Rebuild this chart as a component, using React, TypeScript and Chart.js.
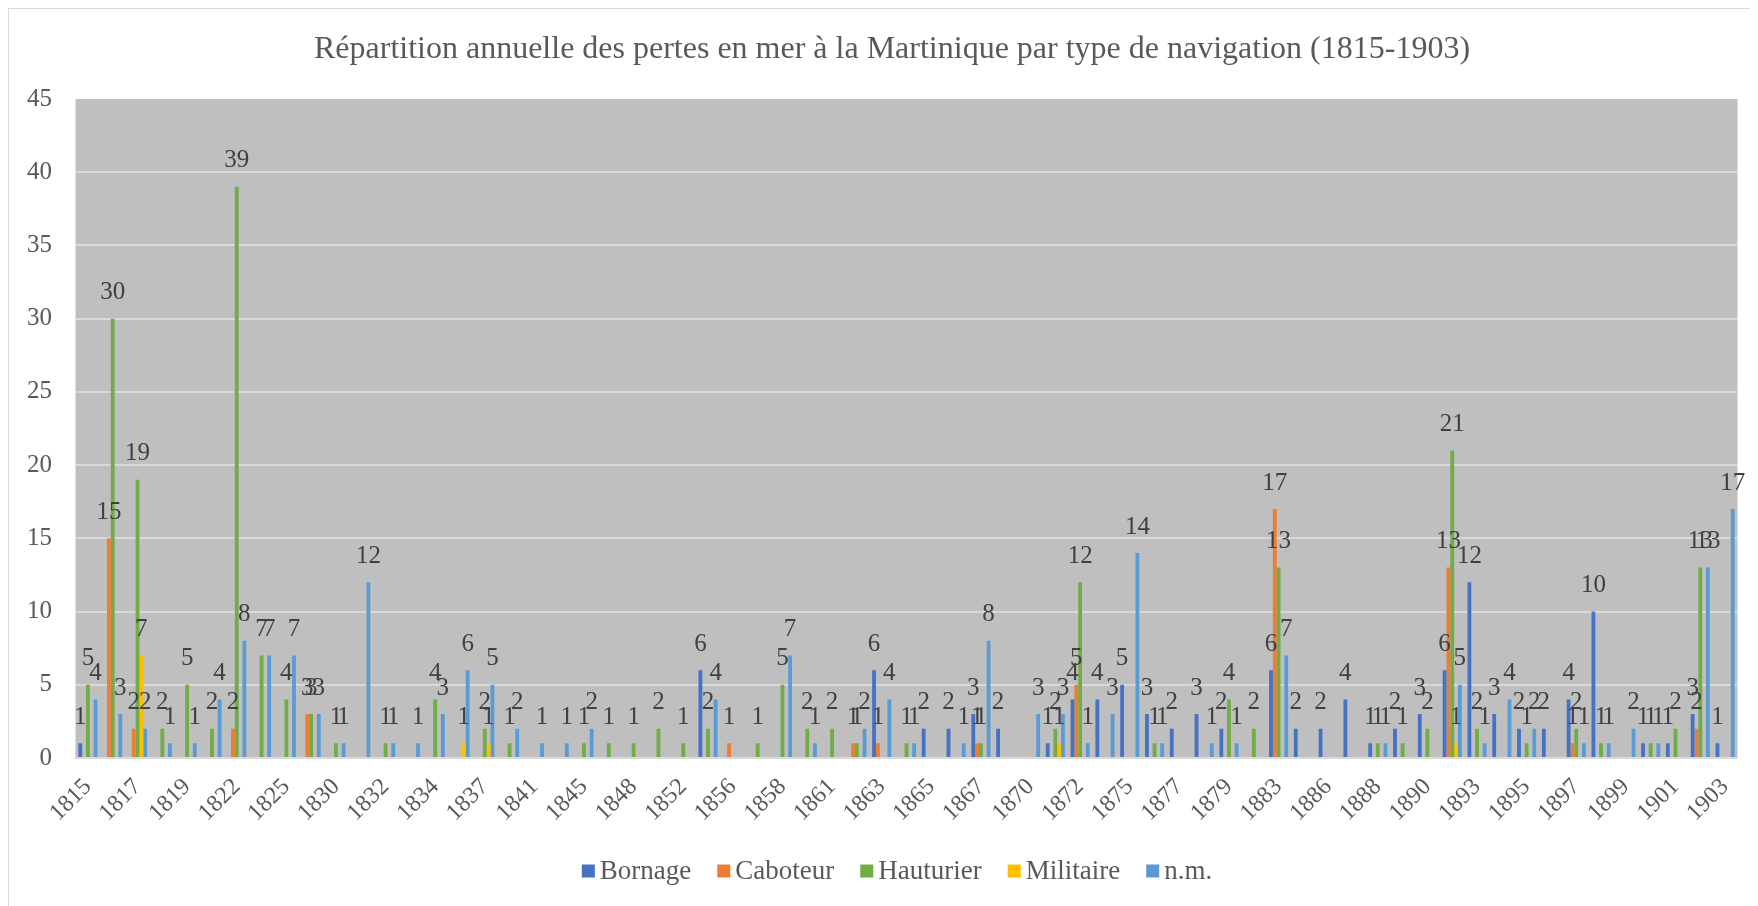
import React, { useEffect, useRef } from 'react';
import { Chart, registerables } from 'chart.js';

Chart.register(...registerables);

const n = null;

const years = [
  '1815', '1816', '1817', '1818', '1819', '1821', '1822', '1823', '1825', '1827',
  '1830', '1831', '1832', '1833', '1834', '1836', '1837', '1839', '1841', '1843',
  '1845', '1847', '1848', '1850', '1852', '1854', '1856', '1857', '1858', '1860',
  '1861', '1862', '1863', '1864', '1865', '1866', '1867', '1868', '1870', '1871',
  '1872', '1874', '1875', '1876', '1877', '1878', '1879', '1881', '1883', '1884',
  '1886', '1887', '1888', '1889', '1890', '1891', '1893', '1894', '1895', '1896',
  '1897', '1898', '1899', '1900', '1901', '1902', '1903',
];

const bornage = [
  1, n, n, n, n, n, n, n, n, n,
  n, n, n, n, n, n, n, n, n, n,
  n, n, n, n, n, 6, n, n, n, n,
  n, n, 6, n, 2, 2, 3, 2, n, 1,
  4, 4, 5, 3, 2, 3, 2, n, 6, 2,
  2, 4, 1, 2, 3, 6, 12, 3, 2, 2,
  4, 10, n, 1, 1, 3, 1,
];

const caboteur = [
  n, 15, 2, n, n, n, 2, n, n, 3,
  n, n, n, n, n, n, n, n, n, n,
  n, n, n, n, n, n, 1, n, n, n,
  n, 1, 1, n, n, n, 1, n, n, n,
  5, n, n, n, n, n, n, n, 17, n,
  n, n, n, n, n, 13, n, n, n, n,
  1, n, n, n, n, 2, n,
];

const hauturier = [
  5, 30, 19, 2, 5, 2, 39, 7, 4, 3,
  1, n, 1, n, 4, n, 2, 1, n, n,
  1, 1, 1, 2, 1, 2, n, 1, 5, 2,
  2, 1, n, 1, n, n, 1, n, n, 2,
  12, n, n, 1, n, n, 4, 2, 13, n,
  n, n, 1, 1, 2, 21, 2, n, 1, n,
  2, 1, n, 1, 2, 13, n,
];

const militaire = [
  n, n, 7, n, n, n, n, n, n, n,
  n, n, n, n, n, 1, 1, n, n, n,
  n, n, n, n, n, n, n, n, n, n,
  n, n, n, n, n, n, n, n, n, 1,
  n, n, n, n, n, n, n, n, n, n,
  n, n, n, n, n, 1, n, n, n, n,
  n, n, n, n, n, n, n,
];

const nonMentionne = [
  4, 3, 2, 1, 1, 4, 8, 7, 7, 3,
  1, 12, 1, 1, 3, 6, 5, 2, 1, 1,
  2, n, n, n, n, 4, n, n, 7, 1,
  n, 2, 4, 1, n, 1, 8, n, 3, 3,
  1, 3, 14, 1, n, 1, 1, n, 7, n,
  n, n, 1, n, n, 5, 1, 4, 2, n,
  1, 1, 2, 1, n, 13, 17,
];

const seriesNames = ['Bornage', 'Caboteur', 'Hauturier', 'Militaire', 'n.m.'];
const seriesColors = ['#4472C4', '#ED7D31', '#70AD47', '#FFC000', '#5B9BD5'];
const yTicks = [0, 5, 10, 15, 20, 25, 30, 35, 40, 45];

const titleText = 'Répartition annuelle des pertes en mer à la Martinique par type de navigation (1815-1903)';
const FONT = "'Liberation Serif', 'Times New Roman', serif";

const plotBg = {
  id: 'plotBg',
  beforeDraw(chart: any) {
    const { ctx, chartArea } = chart;
    ctx.save();
    ctx.fillStyle = '#bfbfbf';
    ctx.fillRect(chartArea.left, chartArea.top, chartArea.right - chartArea.left, chartArea.bottom - chartArea.top);
    ctx.restore();
  },
};

const chartTitle = {
  id: 'chartTitle',
  afterDraw(chart: any) {
    const { ctx } = chart;
    ctx.save();
    ctx.font = `32px ${FONT}`;
    ctx.fillStyle = '#595959';
    ctx.textAlign = 'center';
    ctx.textBaseline = 'middle';
    ctx.fillText(titleText, 883, 41);
    ctx.restore();
  },
};

const valueLabels = {
  id: 'valueLabels',
  afterDatasetsDraw(chart: any) {
    const { ctx } = chart;
    ctx.save();
    ctx.font = `25px ${FONT}`;
    ctx.fillStyle = '#404040';
    ctx.textAlign = 'center';
    ctx.textBaseline = 'middle';
    chart.data.datasets.forEach((ds: any, i: number) => {
      const meta = chart.getDatasetMeta(i);
      meta.data.forEach((bar: any, j: number) => {
        const v = ds.data[j];
        if (v === null || v === undefined) return;
        ctx.fillText(String(v), bar.x, bar.y - 26);
      });
    });
    ctx.restore();
  },
};

const customLegend = {
  id: 'customLegend',
  afterDraw(chart: any) {
    const { ctx } = chart;
    ctx.save();
    ctx.font = `27px ${FONT}`;
    ctx.textBaseline = 'middle';
    ctx.textAlign = 'left';
    const box = 13;
    const gap = 5;
    const spacing = 26;
    const items = chart.data.datasets.map((ds: any) => ({
      label: ds.label,
      color: ds.backgroundColor,
      w: box + gap + ctx.measureText(ds.label).width,
    }));
    const total = items.reduce((s: number, it: any) => s + it.w, 0) + spacing * (items.length - 1);
    let x = 888 - total / 2;
    const y = 862;
    items.forEach((it: any) => {
      ctx.fillStyle = it.color;
      ctx.fillRect(x, y - box / 2, box, box);
      ctx.fillStyle = '#595959';
      ctx.fillText(it.label, x + box + gap, y + 1);
      x += it.w + spacing;
    });
    ctx.restore();
  },
};

export default function App() {
  const canvasRef = useRef<HTMLCanvasElement | null>(null);

  useEffect(() => {
    if (!canvasRef.current) return;
    const allSeries = [bornage, caboteur, hauturier, militaire, nonMentionne];
    const chart = new Chart(canvasRef.current, {
      type: 'bar',
      data: {
        labels: years,
        datasets: allSeries.map((d, i) => ({
          label: seriesNames[i],
          data: d,
          backgroundColor: seriesColors[i],
          borderWidth: 0,
          categoryPercentage: 5 / 6.5,
          barPercentage: 1,
        })),
      },
      options: {
        responsive: false,
        animation: false,
        layout: { padding: { left: 0, right: 37.5, top: 90, bottom: 48 } },
        plugins: {
          legend: { display: false },
          tooltip: { enabled: false },
          title: { display: false },
        },
        scales: {
          x: {
            grid: { display: false, drawTicks: false },
            border: { display: true, color: '#d9d9d9', width: 2 },
            ticks: {
              autoSkip: false,
              minRotation: 45,
              maxRotation: 45,
              padding: 15,
              color: '#595959',
              font: { family: FONT, size: 24 },
              callback: (_v: any, idx: number) => (idx % 2 === 0 ? years[idx] : ''),
            },
            afterFit: (s: any) => { s.height = 100; },
          },
          y: {
            min: 0,
            max: 45,
            afterBuildTicks: (s: any) => { s.ticks = yTicks.map((v) => ({ value: v })); },
            grid: {
              drawTicks: false,
              lineWidth: 2,
              color: (c: any) => (c.tick && c.tick.value === 45 ? 'rgba(0,0,0,0)' : '#d9d9d9'),
            },
            border: { display: false },
            ticks: {
              padding: 23.5,
              color: '#595959',
              font: { family: FONT, size: 25 },
            },
            afterFit: (s: any) => { s.width = 66.5; },
          },
        },
      },
      plugins: [plotBg, valueLabels, chartTitle, customLegend],
    });
    return () => chart.destroy();
  }, []);

  return (
    <div style={{ width: 1742, height: 898, overflow: 'hidden' }}>
      <div style={{ width: 1766, height: 897, border: '1px solid #d9d9d9', background: '#fff' }}>
        <canvas ref={canvasRef} width={1766} height={897} style={{ display: 'block', width: 1766, height: 897 }} />
      </div>
    </div>
  );
}
